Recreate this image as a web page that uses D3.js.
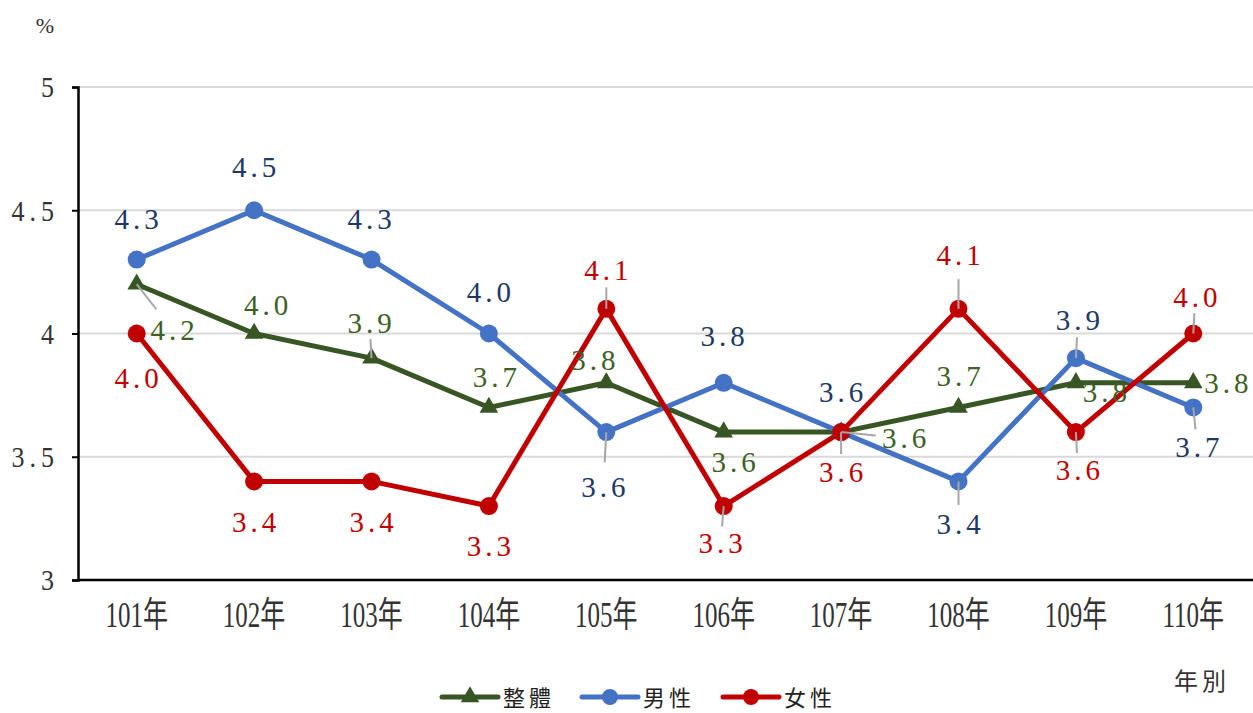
<!DOCTYPE html>
<html>
<head>
<meta charset="utf-8">
<script src="https://cdn.jsdelivr.net/npm/d3@7"></script>
<style>
  body { margin: 0; background: #fff; }
  svg { display: block; }
</style>
</head>
<body>
<div id="chart"></div>
<script>
// data
const years = ['101年', '102年', '103年', '104年', '105年', '106年', '107年', '108年', '109年', '110年'];
const seriesNames = ['整體', '男性', '女性'];
const totalValues = [4.2, 4.0, 3.9, 3.7, 3.8, 3.6, 3.6, 3.7, 3.8, 3.8];
const maleValues = [4.3, 4.5, 4.3, 4.0, 3.6, 3.8, 3.6, 3.4, 3.9, 3.7];
const femaleValues = [4.0, 3.4, 3.4, 3.3, 4.1, 3.3, 3.6, 4.1, 3.6, 4.0];
const yTicks = [3, 3.5, 4, 4.5, 5];

// label placement (offset from point, px) and leader line flags
const totalLabelOff = [[36, 46], [12, -29], [-2, -35], [6, -30], [-13, -23], [10, 30], [63, 6], [0, -31], [29, 9], [33, 0]];
const maleLabelOff = [[0, -41], [0, -43], [-2, -41], [0, -42], [-3, 55], [-1, -47], [0, -40], [0, 43], [2, -38], [4, 40]];
const femaleLabelOff = [[0, 44], [0, 41], [0, 41], [0, 40], [0, -39], [-3, 37], [0, 40], [0, -54], [2, 38], [2, -37]];
const totalLeader = [1, 0, 1, 0, 0, 0, 1, 0, 0, 0];
const maleLeader = [0, 0, 0, 0, 1, 0, 0, 1, 1, 1];
const femaleLeader = [0, 0, 0, 0, 1, 1, 1, 1, 1, 1];

const width = 1253;
const height = 713;
const plotLeft = 78, plotRight = 1253, plotTop = 87, plotBottom = 580;

const svg = d3.select('#chart')
  .append('svg')
  .attr('width', width)
  .attr('height', height);

const x = d3.scaleBand()
  .domain(years)
  .range([plotLeft, plotRight - 1]);

const y = d3.scaleLinear()
  .domain([3, 5])
  .range([plotBottom, plotTop]);

const cx = d => x(d) + x.bandwidth() / 2;
const serif = '"Liberation Serif", "DejaVu Serif", "Noto Sans CJK TC", serif';
const cjk = '"Noto Sans CJK TC", sans-serif';

// gridlines
svg.append('g')
  .selectAll('line')
  .data(yTicks.slice(1))
  .enter()
  .append('line')
  .attr('x1', plotLeft)
  .attr('x2', plotRight)
  .attr('y1', d => y(d))
  .attr('y2', d => y(d))
  .style('stroke', '#d9d9d9')
  .style('stroke-width', 2);

// axes
const yAxis = d3.axisLeft(y).tickValues(yTicks).tickSize(6).tickPadding(13)
  .tickFormat(d => String(d));
const yg = svg.append('g')
  .attr('transform', 'translate(' + plotLeft + ',0)')
  .call(yAxis);
yg.select('.domain').style('stroke', '#000').style('stroke-width', 2.5);
yg.selectAll('.tick line').style('stroke', '#000').style('stroke-width', 2);
yg.selectAll('.tick text')
  .attr('y', 0)
  .attr('dy', '0.33em')
  .style('transform', 'scaleY(1.15)')
  .style('font-family', serif)
  .style('font-size', '26px')
  .style('letter-spacing', '5px')
  .style('fill', '#333');

const xAxis = d3.axisBottom(x).tickSize(0);
const xg = svg.append('g')
  .attr('transform', 'translate(0,' + plotBottom + ')')
  .call(xAxis);
xg.select('.domain').attr('d', 'M' + plotLeft + ',0H' + plotRight).style('stroke', '#000').style('stroke-width', 2.5);
xg.selectAll('text')
  .attr('y', 47 / 1.4)
  .attr('dy', 0)
  .attr('transform', 'scale(1,1.4)')
  .style('font-family', serif)
  .style('font-size', '25px')
  .style('fill', '#333');

// series
const series = [
  { name: seriesNames[0], values: totalValues, color: '#375623', text: '#3d6025', marker: 'triangle', off: totalLabelOff, leader: totalLeader },
  { name: seriesNames[1], values: maleValues, color: '#4472c4', text: '#203864', marker: 'circle', off: maleLabelOff, leader: maleLeader },
  { name: seriesNames[2], values: femaleValues, color: '#c00000', text: '#c00000', marker: 'circle', off: femaleLabelOff, leader: femaleLeader }
];

const line = d3.line()
  .x((d, i) => cx(years[i]))
  .y(d => y(d));

const triangle = d3.symbol().type(d3.symbolTriangle).size(150);

series.forEach(s => {
  svg.append('path')
    .datum(s.values)
    .attr('d', line)
    .style('fill', 'none')
    .style('stroke', s.color)
    .style('stroke-width', 5)
    .style('stroke-linejoin', 'round');
});

series.forEach(s => {
  const g = svg.append('g');
  if (s.marker === 'circle') {
    g.selectAll('circle')
      .data(s.values)
      .enter()
      .append('circle')
      .attr('cx', (d, i) => cx(years[i]))
      .attr('cy', d => y(d))
      .attr('r', 9)
      .style('fill', s.color);
  } else {
    g.selectAll('path')
      .data(s.values)
      .enter()
      .append('path')
      .attr('d', triangle)
      .attr('transform', (d, i) => 'translate(' + cx(years[i]) + ',' + y(d) + ')')
      .style('fill', s.color);
  }
});

// leader lines
series.forEach(s => {
  svg.append('g')
    .selectAll('line')
    .data(s.values.map((v, i) => ({ v, i })).filter(d => s.leader[d.i]))
    .enter()
    .append('line')
    .attr('x1', d => cx(years[d.i]))
    .attr('y1', d => y(d.v))
    .attr('x2', d => cx(years[d.i]) + s.off[d.i][0] * 0.55)
    .attr('y2', d => y(d.v) + s.off[d.i][1] * 0.55)
    .style('stroke', '#a6a6a6')
    .style('stroke-width', 2);
});

// data labels
series.forEach(s => {
  svg.append('g')
    .selectAll('text')
    .data(s.values)
    .enter()
    .append('text')
    .text(d => d.toFixed(1))
    .attr('x', (d, i) => cx(years[i]) + s.off[i][0] + 2)
    .attr('y', (d, i) => y(d) + s.off[i][1])
    .attr('text-anchor', 'middle')
    .attr('dominant-baseline', 'central')
    .style('font-family', serif)
    .style('font-size', '29px')
    .style('letter-spacing', '4px')
    .style('fill', s.text);
});

// unit labels
svg.append('text')
  .text('%')
  .attr('x', 45)
  .attr('y', 33)
  .attr('text-anchor', 'middle')
  .style('font-family', serif)
  .style('font-size', '22px')
  .style('fill', '#333');

svg.append('text')
  .text('年別')
  .attr('x', 1202)
  .attr('y', 690)
  .attr('text-anchor', 'middle')
  .style('font-family', cjk)
  .style('font-size', '24px')
  .style('letter-spacing', '4px')
  .style('fill', '#333');

// legend
const legendX = [442, 582, 723];
const legendY = 697;
const legend = svg.append('g');
series.forEach((s, i) => {
  const lx = legendX[i];
  legend.append('line')
    .attr('x1', lx)
    .attr('x2', lx + 56)
    .attr('y1', legendY)
    .attr('y2', legendY)
    .style('stroke', s.color)
    .style('stroke-width', 5)
    .style('stroke-linecap', 'round');
  if (s.marker === 'circle') {
    legend.append('circle')
      .attr('cx', lx + 28)
      .attr('cy', legendY)
      .attr('r', 8)
      .style('fill', s.color);
  } else {
    legend.append('path')
      .attr('d', triangle)
      .attr('transform', 'translate(' + (lx + 28) + ',' + legendY + ')')
      .style('fill', s.color);
  }
  legend.append('text')
    .text(s.name)
    .attr('x', lx + 61)
    .attr('y', legendY - 1)
    .attr('dominant-baseline', 'central')
    .style('font-family', cjk)
    .style('font-size', '22px')
    .style('letter-spacing', '4px')
    .style('fill', '#222');
});
</script>
</body>
</html>
